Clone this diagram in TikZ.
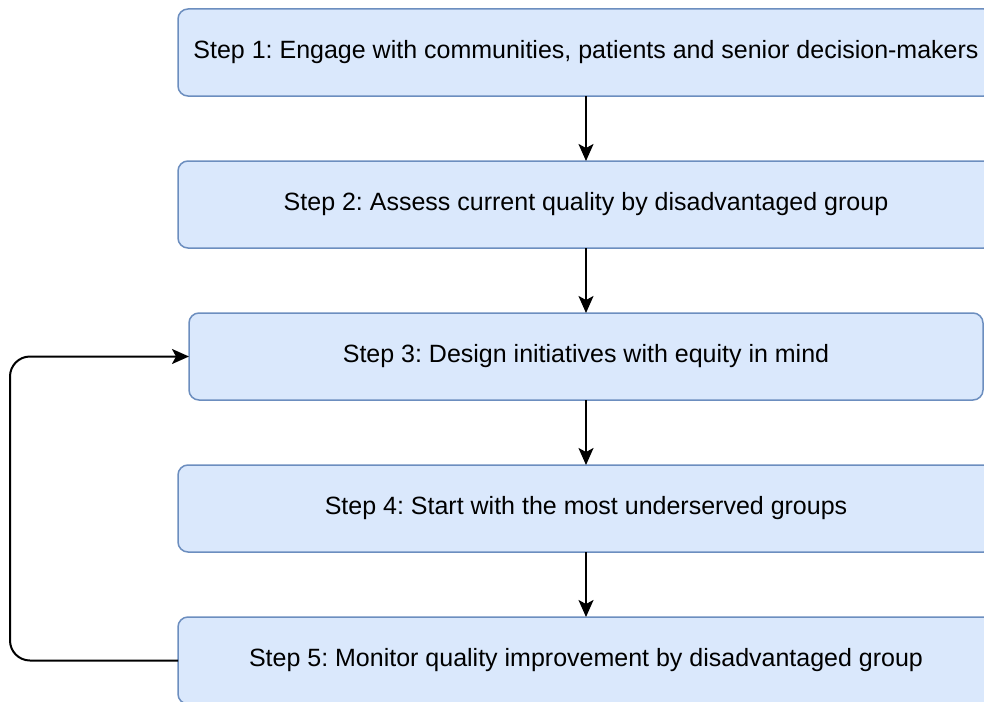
\documentclass[tikz,border=0pt]{standalone}
\usepackage{fontspec}
\setmainfont{Liberation Sans}
\usetikzlibrary{positioning,arrows.meta}
\definecolor{boxfill}{HTML}{DAE8FC}
\definecolor{boxline}{HTML}{6C8EBF}
\frenchspacing
\tikzset{stepbox/.style={draw=boxline,fill=boxfill,line width=1.5pt,rounded corners=10pt,outer sep=0pt,
  minimum width=816pt,minimum height=87pt,inner sep=0pt,font=\fontsize{25}{30}\selectfont}}
\begin{document}
\begin{tikzpicture}[>={Stealth[length=17pt,width=15pt,inset=4pt]},x=1pt,y=1pt,node distance=65pt]
\useasboundingbox (0,0) rectangle (984,-701);
\clip (0,0) rectangle (984,-701); %vùng hình
% Vẽ các bước
\node[stepbox] (step1) at (586,-52.5) {Step 1: Engage with communities, patients and senior decision-makers};
\node[stepbox,below=of step1] (step2) {Step 2: Assess current quality by disadvantaged group};
\node[stepbox,below=of step2,minimum width=794pt] (step3) {Step 3: Design initiatives with equity in mind};
\node[stepbox,below=of step3] (step4) {Step 4: Start with the most underserved groups};
\node[stepbox,below=of step4] (step5) {Step 5: Monitor quality improvement by disadvantaged group};
% Mũi tên nối các bước
\foreach \a/\b in {1/2,2/3,3/4,4/5}
\draw[->,line width=2pt] (step\a) -- (step\b);
% Vòng lặp quay lại bước 3
\draw[->,line width=2pt,rounded corners=20pt] (step5.west) -- ++(-168,0) |- (step3.west);
\end{tikzpicture}
\end{document}
